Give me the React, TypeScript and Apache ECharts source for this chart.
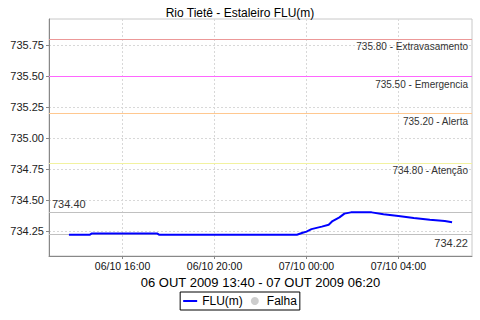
import React, { useEffect, useRef } from 'react';
import * as echarts from 'echarts';

const chartTitle = 'Rio Tietê - Estaleiro FLU(m)';
const xAxisTitle = '06 OUT 2009 13:40 - 07 OUT 2009 06:20';
const seriesName = 'FLU(m)';
const failName = 'Falha';

const times = [
  '06/10 13:40', '06/10 14:35', '06/10 14:40', '06/10 17:30', '06/10 17:35',
  '06/10 23:35', '06/10 23:50', '07/10 00:00', '07/10 00:13', '07/10 00:40',
  '07/10 00:58', '07/10 01:08', '07/10 01:26', '07/10 01:39', '07/10 01:56',
  '07/10 02:50', '07/10 03:21', '07/10 04:00', '07/10 04:40', '07/10 05:22',
  '07/10 06:01', '07/10 06:20',
];
const levels = [
  734.22, 734.22, 734.23, 734.23, 734.22,
  734.22, 734.235, 734.245, 734.265, 734.285,
  734.30, 734.33, 734.36, 734.39, 734.40,
  734.40, 734.385, 734.37, 734.355, 734.34,
  734.33, 734.32,
];

const thresholdValues = [735.8, 735.5, 735.2, 734.8];
const thresholdNames = ['Extravasamento', 'Emergencia', 'Alerta', 'Atenção'];
const thresholdColors = ['#ec9898', '#ff66ff', '#ffc890', '#f2f2a0'];
const maxLevel = 734.4;
const minLevel = 734.22;

const yTicks = [734.25, 734.5, 734.75, 735.0, 735.25, 735.5, 735.75];
const xTicks = ['06/10 16:00', '06/10 20:00', '07/10 00:00', '07/10 04:00'];
const xRange = ['06/10 12:48', '07/10 07:12'];
const yRange = [734.048, 735.96];

function toMs(s: string): number {
  const [d, t] = s.split(' ');
  const [day, month] = d.split('/').map(Number);
  const [h, m] = t.split(':').map(Number);
  return new Date(2009, month - 1, day, h, m).getTime();
}
function pad(n: number) { return n < 10 ? '0' + n : '' + n; }
function fmt(ms: number): string {
  const dt = new Date(ms);
  return pad(dt.getDate()) + '/' + pad(dt.getMonth() + 1) + ' ' + pad(dt.getHours()) + ':' + pad(dt.getMinutes());
}

const FONT = 'Liberation Sans';

function refLine(id: string, value: number, color: string, text: string, pos: string, size: number, dist: number[]) {
  return {
    id,
    name: id,
    type: 'line',
    z: 1,
    data: [],
    symbol: 'none',
    markLine: {
      silent: true,
      z: 1,
      symbol: ['none', 'none'],
      lineStyle: { color, type: 'solid', width: 1, opacity: 1 },
      label: {
        show: true, position: pos, formatter: text,
        color: '#333', fontSize: size, fontFamily: FONT, distance: dist,
      },
      data: [{ yAxis: value }],
    },
  };
}

export default function App() {
  const ref = useRef<HTMLDivElement>(null);
  useEffect(() => {
    if (!ref.current) return;
    const chart = echarts.init(ref.current, undefined, { renderer: 'svg' });
    const data = times.map((t, i) => [toMs(t), levels[i]]);
    const refSeries: any[] = thresholdValues.map((v, i) =>
      refLine('t' + i, v, thresholdColors[i], v.toFixed(2) + ' - ' + thresholdNames[i], 'insideEndBottom', 10, [4, 3])
    );
    refSeries.push(refLine('tmax', maxLevel, '#c0c0c0', maxLevel.toFixed(2), 'insideStartTop', 11, [3, 3]));
    refSeries.push(refLine('tmin', minLevel, '#c0c0c0', minLevel.toFixed(2), 'insideEndBottom', 11, [4, 3]));

    chart.setOption({
      animation: false,
      backgroundColor: '#ffffff',
      title: {
        text: chartTitle,
        left: 'center',
        top: 2,
        textStyle: { fontSize: 12, fontWeight: 'normal', color: '#000', fontFamily: FONT },
      },
      grid: {
        left: 49, right: 8, top: 19, bottom: 64,
        show: true, borderColor: '#c8c8c8', borderWidth: 1, backgroundColor: '#fff',
      },
      legend: {
        top: 292,
        left: 'center',
        data: [
          { name: seriesName, icon: 'path://M0,0L14,0L14,2L0,2Z' },
          { name: failName, icon: 'circle' },
        ],
        itemWidth: 14,
        itemHeight: 8,
        itemGap: 8,
        padding: [3, 3],
        borderColor: '#000',
        borderWidth: 1,
        textStyle: { fontSize: 12, color: '#000', fontFamily: FONT },
      },
      xAxis: {
        type: 'value',
        min: toMs(xRange[0]),
        max: toMs(xRange[1]),
        name: xAxisTitle,
        nameLocation: 'middle',
        nameGap: 20,
        nameTextStyle: { fontSize: 13, color: '#000', fontFamily: FONT },
        axisLine: { show: true, lineStyle: { color: '#888', width: 1 } },
        axisTick: { show: true, length: 3, lineStyle: { color: '#888' }, customValues: xTicks.map(toMs) },
        axisLabel: {
          customValues: xTicks.map(toMs),
          formatter: (v: number) => fmt(v),
          fontSize: 10.5, color: '#111', fontFamily: FONT, margin: 4,
        },
        splitLine: { show: true, lineStyle: { color: '#d8d8d8', type: [2, 2] } },
      },
      yAxis: {
        type: 'value',
        min: yRange[0],
        max: yRange[1],
        axisLine: { show: true, lineStyle: { color: '#888', width: 1 } },
        axisTick: { show: true, length: 3, lineStyle: { color: '#888' }, customValues: yTicks },
        axisLabel: {
          customValues: yTicks,
          formatter: (v: number) => v.toFixed(2),
          fontSize: 11, color: '#222', fontFamily: FONT, margin: 5,
        },
        splitLine: { show: true, lineStyle: { color: '#d8d8d8', type: [2, 2] } },
      },
      series: [
        ...refSeries,
        {
          name: failName,
          type: 'scatter',
          data: [],
          itemStyle: { color: '#c0c0c0' },
        },
        {
          name: seriesName,
          type: 'line',
          z: 10,
          data,
          symbol: 'none',
          lineStyle: { color: '#0000ff', width: 2 },
          itemStyle: { color: '#0000ff' },
        },
      ],
    });
    return () => chart.dispose();
  }, []);
  return <div ref={ref} style={{ position: 'fixed', left: 0, top: 0, width: 480, height: 320 }} />;
}
